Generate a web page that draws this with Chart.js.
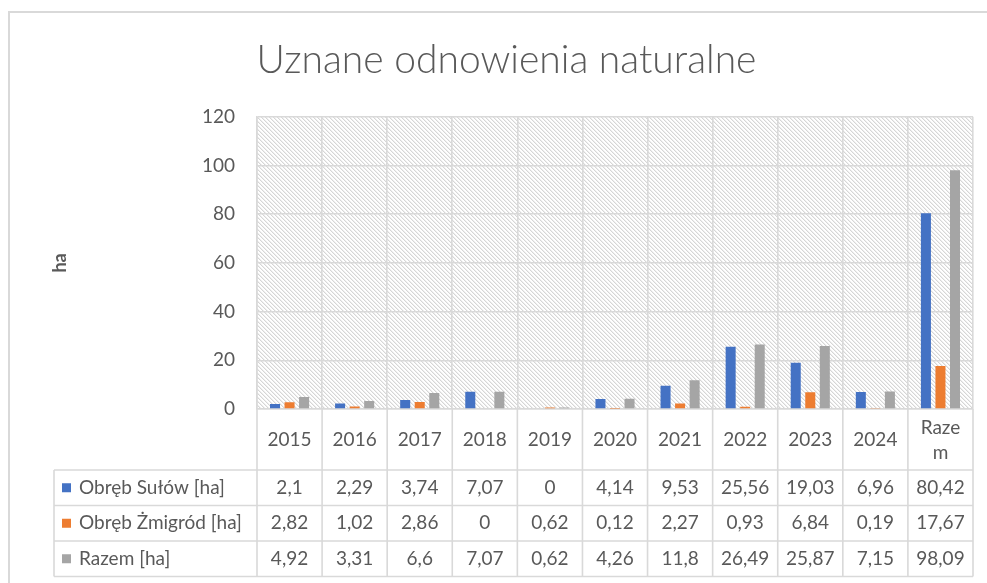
<!DOCTYPE html>
<html>
<head>
<meta charset="utf-8">
<script src="https://cdn.jsdelivr.net/npm/chart.js@4.4.0/dist/chart.umd.min.js"></script>
<style>
html,body{margin:0;padding:0;background:#fff;overflow:hidden}
#wrap{position:relative;width:987px;height:583px}
</style>
</head>
<body>
<div id="wrap"><canvas id="c" width="987" height="583"></canvas></div>
<script>
// ---- data ----
const chartTitle = 'Uznane odnowienia naturalne';
const axisTitle = 'ha';
const categories = ['2015','2016','2017','2018','2019','2020','2021','2022','2023','2024','Razem'];
const tickLabels = ['2015','2016','2017','2018','2019','2020','2021','2022','2023','2024',['Raze','m']];
const seriesNames = ['Obręb Sułów [ha]','Obręb Żmigród [ha]','Razem [ha]'];
const sulow   = [2.1, 2.29, 3.74, 7.07, 0, 4.14, 9.53, 25.56, 19.03, 6.96, 80.42];
const zmigrod = [2.82, 1.02, 2.86, 0, 0.62, 0.12, 2.27, 0.93, 6.84, 0.19, 17.67];
const razem   = [4.92, 3.31, 6.6, 7.07, 0.62, 4.26, 11.8, 26.49, 25.87, 7.15, 98.09];
const yTicks  = [0, 20, 40, 60, 80, 100, 120];

// ---- styles ----
const COLORS = ['#4472C4', '#ED7D31', '#A5A5A5'];
const GRID = '#D9D9D9';
const TEXT = '#595959';
const FONT = 'Lato';

const hatch = (() => {
  const t = document.createElement('canvas');
  t.width = 8; t.height = 8;
  const g = t.getContext('2d');
  g.fillStyle = '#fff'; g.fillRect(0, 0, 8, 8);
  for (let y = 0; y < 8; y++) for (let x = 0; x < 8; x++) {
    const d = ((x - y) % 4 + 4) % 4;
    if (d === 0) { g.fillStyle = '#D6D6D6'; g.fillRect(x, y, 1, 1); }
    else if (d === 1) { g.fillStyle = '#EFEFEF'; g.fillRect(x, y, 1, 1); }
  }
  return t;
})();

const backgroundPlugin = {
  id: 'bg',
  beforeDraw(chart) {
    const { ctx, chartArea: a } = chart;
    ctx.save();
    ctx.fillStyle = '#fff';
    ctx.fillRect(0, 0, chart.width, chart.height);
    ctx.strokeStyle = GRID; ctx.lineWidth = 2;
    ctx.beginPath();
    ctx.moveTo(9, chart.height); ctx.lineTo(9, 12); ctx.lineTo(chart.width, 12);
    ctx.stroke();
    ctx.fillStyle = ctx.createPattern(hatch, 'repeat');
    ctx.fillRect(a.left, a.top, a.right - a.left, a.bottom - a.top);
    ctx.restore();
  }
};

const fmt = v => String(v).replace('.', ',');

const tablePlugin = {
  id: 'dataTable',
  afterDraw(chart) {
    const { ctx, chartArea: a, scales: { x } } = chart;
    const n = categories.length;
    const colW = (a.right - a.left) / n;
    const headerBottom = a.bottom + 61;
    const rowH = 35.5;
    const tableBottom = headerBottom + rowH * seriesNames.length;
    const tableLeft = 54;
    ctx.save();
    ctx.strokeStyle = GRID; ctx.lineWidth = 1.6;
    ctx.beginPath();
    for (let i = 0; i <= n; i++) {
      const xx = i < n ? x.getPixelForValue(i) - colW / 2 : x.getPixelForValue(n - 1) + colW / 2;
      ctx.moveTo(xx, a.bottom); ctx.lineTo(xx, tableBottom);
    }
    ctx.moveTo(tableLeft, headerBottom); ctx.lineTo(tableLeft, tableBottom);
    for (let r = 0; r <= seriesNames.length; r++) {
      const yy = headerBottom + r * rowH;
      ctx.moveTo(tableLeft, yy); ctx.lineTo(a.right, yy);
    }
    ctx.stroke();

    ctx.fillStyle = TEXT;
    ctx.font = '19px ' + FONT;
    ctx.textAlign = 'center';
    ctx.textBaseline = 'middle';
    const headMid = a.bottom + 31;
    tickLabels.forEach((lab, i) => {
      const cx = x.getPixelForValue(i);
      if (Array.isArray(lab)) {
        const lh = 25;
        lab.forEach((s, k) => ctx.fillText(s, cx, headMid + (k - (lab.length - 1) / 2) * lh));
      } else {
        ctx.fillText(lab, cx, headMid);
      }
    });
    chart.data.datasets.forEach((ds, r) => {
      const cy = headerBottom + r * rowH + rowH / 2;
      ctx.fillStyle = TEXT;
      ctx.textAlign = 'center';
      ds.data.forEach((v, i) => ctx.fillText(fmt(v), x.getPixelForValue(i), cy));
      ctx.fillStyle = ds.backgroundColor;
      ctx.fillRect(62, cy - 4.5, 9, 9);
      ctx.fillStyle = TEXT;
      ctx.textAlign = 'left';
      ctx.fillText(ds.label, 79, cy);
    });
    ctx.restore();
  }
};

function draw() {
  Chart.defaults.font.family = FONT;
  new Chart(document.getElementById('c'), {
    type: 'bar',
    data: {
      labels: categories,
      datasets: [
        { label: seriesNames[0], data: sulow, backgroundColor: COLORS[0] },
        { label: seriesNames[1], data: zmigrod, backgroundColor: COLORS[1] },
        { label: seriesNames[2], data: razem, backgroundColor: COLORS[2] }
      ]
    },
    options: {
      responsive: false,
      animation: false,
      devicePixelRatio: 1,
      layout: { padding: { left: 40, right: 14, top: 0, bottom: 174 } },
      datasets: { bar: { categoryPercentage: 0.67, barPercentage: 0.69, borderWidth: 0 } },
      plugins: {
        legend: { display: false },
        tooltip: { enabled: false },
        title: {
          display: true, text: chartTitle, color: TEXT,
          font: { family: FONT, size: 39, weight: '300' },
          padding: { top: 37, bottom: 33 }
        }
      },
      scales: {
        x: {
          ticks: { display: false },
          grid: { color: GRID, lineWidth: 1.6, drawTicks: false, offset: true },
          border: { color: GRID, width: 1.6 }
        },
        y: {
          min: yTicks[0], max: yTicks[yTicks.length - 1],
          afterBuildTicks(s) { s.ticks = yTicks.map(v => ({ value: v })); },
          ticks: { color: TEXT, font: { family: FONT, size: 19 }, padding: 22 },
          grid: { color: GRID, lineWidth: 1.6, drawTicks: false },
          border: { color: GRID, width: 1.6 },
          title: {
            display: true, text: axisTitle, color: TEXT,
            font: { family: FONT, size: 18, weight: 'bold' },
            padding: { top: 9, bottom: 0 }
          },
          afterFit(s) { s.width = 217; }
        }
      }
    },
    plugins: [backgroundPlugin, tablePlugin]
  });
}

const fontLoads = ['19px Lato', 'bold 18px Lato', '300 39px Lato'].map(f => document.fonts.load(f).catch(() => null));
Promise.all(fontLoads).then(draw, draw);
</script>
</body>
</html>
